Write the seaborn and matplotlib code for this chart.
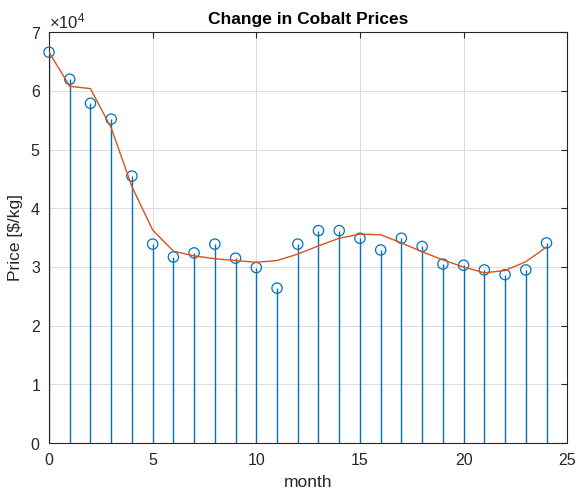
import numpy as np
import pandas as pd
import matplotlib
matplotlib.use("Agg")
import matplotlib.pyplot as plt
import seaborn as sns

# monthly cobalt price readings ($/kg) and a smoothed fit
month = list(range(25))
price = [66600, 62000, 57900, 55200, 45500, 33900, 31700, 32400, 33900, 31500,
         29900, 26400, 33900, 36200, 36200, 34900, 32900, 34900, 33500, 30500,
         30300, 29500, 28700, 29500, 34100]
smooth = [66600, 60800, 60400, 53700, 43700, 36300, 32700, 31900, 31400, 31100,
          30800, 31100, 32200, 33600, 34900, 35600, 35500, 34100, 32600, 31200,
          30000, 29000, 29400, 30900, 33400]

df = pd.DataFrame({"month": month, "price": price, "smooth": smooth})

sns.set_style("white")
plt.rcParams["font.family"] = ["Liberation Sans", "DejaVu Sans"]
plt.rcParams["mathtext.fontset"] = "custom"
plt.rcParams["mathtext.rm"] = "Liberation Sans"

blue = "#0072BD"
orange = "#D95319"
dark = "#262626"

fig = plt.figure(figsize=(5.8, 4.93), dpi=100)
ax = fig.add_axes([0.0845, 0.1014, 0.8935, 0.8331])

ax.vlines(df["month"], 0, df["price"], color=blue, linewidth=1.0, zorder=2)
sns.scatterplot(data=df, x="month", y="price", ax=ax, marker="o", s=55,
                facecolors="none", edgecolor=blue, linewidth=0.9, zorder=3,
                clip_on=False)
sns.lineplot(data=df, x="month", y="smooth", ax=ax, color=orange,
             linewidth=1.0, zorder=4)

ax.set_xlim(0, 25)
ax.set_ylim(0, 70000)
ax.set_xticks(range(0, 26, 5))
ax.set_yticks(range(0, 70001, 10000))
ax.ticklabel_format(axis="y", style="sci", scilimits=(4, 4), useMathText=True)
ax.yaxis.get_offset_text().set_fontsize(12)
ax.yaxis.get_offset_text().set_color("#555555")

ax.grid(True, color="#dcdcdc", linewidth=0.7)
ax.set_axisbelow(True)
for sp in ax.spines.values():
    sp.set_color(dark)
    sp.set_linewidth(0.8)
ax.tick_params(direction="in", top=True, right=True, length=4, width=0.8,
               colors=dark, labelsize=11.5, labelcolor=dark)
ax.tick_params(axis="x", pad=7)
ax.tick_params(axis="y", pad=6)

ax.set_title("Change in Cobalt Prices", fontsize=12.5, fontweight="bold",
             color="black", pad=6)
ax.set_xlabel("month", fontsize=12.5, color=dark, labelpad=5)
ax.set_ylabel("Price [$/kg]", fontsize=12.5, color=dark, labelpad=5)

fig.savefig("out.png", dpi=100)
